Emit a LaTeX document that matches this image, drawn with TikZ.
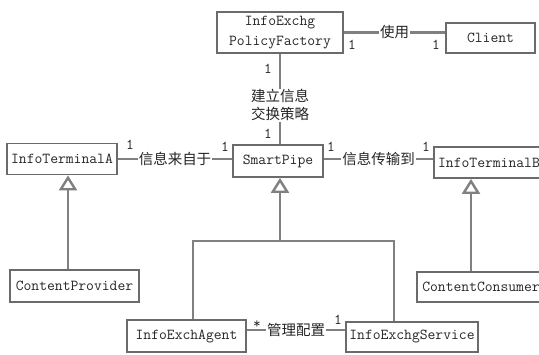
\documentclass[tikz,border=0pt]{standalone}
\usepackage{fontspec}
\newfontfamily\monof{Latin Modern Mono}
\newfontfamily\cjkf{Noto Sans CJK SC}
\usetikzlibrary{arrows.meta}
\begin{document}
\begin{tikzpicture}[x=1pt,y=-1pt,
  cls/.style={draw=black!58, line width=1.8pt, fill=white, inner sep=0pt,
    font=\monof\fontsize{15.2}{20}\selectfont, text=black!85},
  conn/.style={draw=black!50, line width=2.4pt},
  inh/.style={conn, -{Triangle[fill=white, length=15pt, width=18pt]}},
  lbl/.style={fill=white, inner sep=1pt, font=\cjkf\fontsize{14.5}{18}\selectfont, text=black!85},
  mult/.style={inner sep=0pt, font=\monof\fontsize{15}{18}\selectfont, text=black!85}]
\fill[white] (0,0) rectangle (539,354);
\useasboundingbox (0,0) rectangle (539,354);
\clip (0,0) rectangle (539,354);

% classes
\node[cls, minimum width=126pt, minimum height=41pt, align=center] (pf) at (280,32.5) {InfoExchg\\PolicyFactory};
\node[cls, minimum width=89pt, minimum height=30pt] (client) at (490.5,38) {Client};
\node[cls, minimum width=110pt, minimum height=31pt] (ta) at (62,159) {InfoTerminalA};
\node[cls, minimum width=90pt, minimum height=32pt] (sp) at (278,161) {SmartPipe};
\node[cls, minimum width=110pt, minimum height=31pt] (tb) at (489,162.5) {InfoTerminalB};
\node[cls, minimum width=129pt, minimum height=32pt] (cp) at (74.5,286) {ContentProvider};
\node[cls, minimum width=128pt, minimum height=30pt] (cc) at (481,287) {ContentConsumer};
\node[cls, minimum width=119pt, minimum height=32pt] (agent) at (186.5,336) {InfoExchAgent};
\node[cls, minimum width=132pt, minimum height=30pt] (svc) at (412,337) {InfoExchgService};

% helper coordinates
\coordinate (tastem) at (68,0);
\coordinate (tbstem) at (471,0);
\coordinate (trunk) at (280,241);
\coordinate (barL) at (193,241);
\coordinate (barR) at (394,241);

% associations
\draw[conn] (pf.east) -- node[lbl]{使用} (pf.east -| client.west);
\draw[conn] (pf.south) -- node[lbl, pos=0.57, align=center]{建立信息\\交换策略} (pf.south |- sp.north);
\draw[conn] (ta.east) -- node[lbl]{信息来自于} (ta.east -| sp.west);
\draw[conn] (ta.east -| sp.east) -- node[lbl]{信息传输到} (ta.east -| tb.west);
\draw[conn] ([yshift=6pt]agent.east) -- node[lbl]{管理配置} ([yshift=6pt]agent.east -| svc.west);

% generalisations
\draw[inh] (cp.north -| tastem) -- (ta.south -| tastem);
\draw[inh] (cc.north -| tbstem) -- (tb.south -| tbstem);
\draw[conn] (agent.north -| barL) -- (barL) -- (barR) -- (svc.north -| barR);
\draw[inh] (trunk) -- (trunk |- sp.south);

% multiplicities
\node[mult] (m1) at (352,45) {1};
\node[mult] (m2) at (436,45) {1};
\node[mult] (m3) at (268,69) {1};
\node[mult] (m4) at (268,134) {1};
\node[mult] (m5) at (130,145) {1};
\node[mult] (m6) at (225,147) {1};
\node[mult] (m7) at (331,147) {1};
\node[mult] (m8) at (426,147) {1};
\node[mult] (m9) at (257,325) {*};
\node[mult] (m10) at (338,320) {1};
\end{tikzpicture}
\end{document}
